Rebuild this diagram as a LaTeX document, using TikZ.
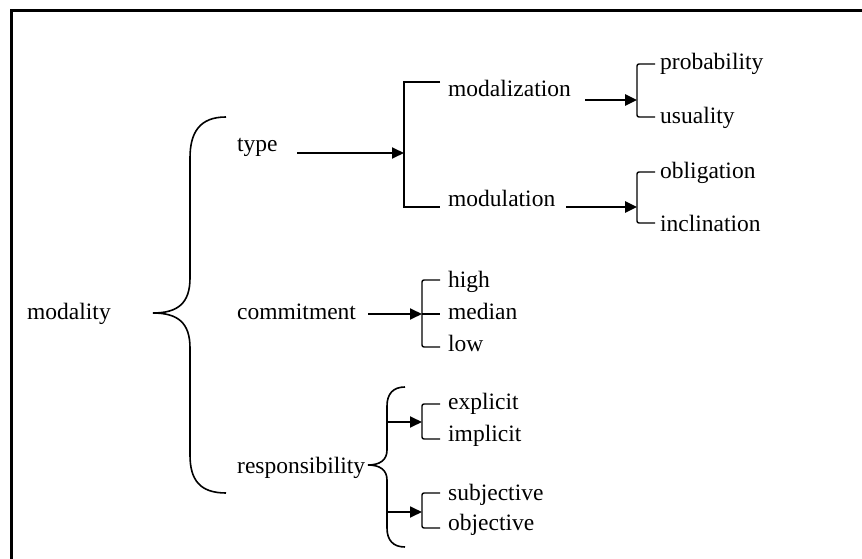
\documentclass[tikz,border=0pt]{standalone}
\usepackage{fontspec}
\setmainfont{Liberation Serif}
\usetikzlibrary{arrows.meta}

\begin{document}
\begin{tikzpicture}[x=1pt,y=-1pt,
		lbl/.style={anchor=mid west,inner sep=0pt,yshift=-4pt,font=\fontsize{23.5}{28}\selectfont},
		arr/.style={-{Triangle[length=12pt,width=11pt]},line width=1.8pt},
		barr/.style={arr,line width=2.6pt},
		brk/.style={line width=1.4pt,rounded corners=2pt},
		brace/.style={line width=1.6pt}]
	\useasboundingbox (0,0) rectangle (862,559);
	\draw[line width=3pt] (11,559) -- (11,11) -- (862,11);
	% texts
	\node[lbl] (modality) at (27,313) {modality};
	\node[lbl] (type) at (237,145) {type};
	\node[lbl] (commitment) at (237,313) {commitment};
	\node[lbl] (responsibility) at (237,467) {responsibility};
	\node[lbl] (modalization) at (448,90) {modalization};
	\node[lbl] (modulation) at (448,200) {modulation};
	\node[lbl] (probability) at (660,63) {probability};
	\node[lbl] (usuality) at (660,117) {usuality};
	\node[lbl] (obligation) at (660,172) {obligation};
	\node[lbl] (inclination) at (660,225) {inclination};
	\node[lbl] (high) at (448,281) {high};
	\node[lbl] (median) at (448,313) {median};
	\node[lbl] (low) at (448,345) {low};
	\node[lbl] (explicit) at (448,403) {explicit};
	\node[lbl] (implicit) at (448,435) {implicit};
	\node[lbl] (subjective) at (448,494) {subjective};
	\node[lbl] (objective) at (448,524) {objective};
	% arrow ends
	\coordinate (typeout) at (297,153);
	\coordinate (typein) at (404,153);
	\coordinate (mdzout) at (585,100);
	\coordinate (mdzin) at (637,100);
	\coordinate (mdlout) at (566,207);
	\coordinate (mdlin) at (637,207);
	\coordinate (comout) at (368,314);
	\coordinate (comin) at (422,314);
	\coordinate (expout) at (387,422);
	\coordinate (expin) at (422,422);
	\coordinate (subout) at (387,512);
	\coordinate (subin) at (422,512);
	\draw[arr] (typeout) -- (typein);
	\draw[barr] (mdzout) -- (mdzin);
	\draw[barr] (mdlout) -- (mdlin);
	\draw[arr] (comout) -- (comin);
	\draw[arr] (expout) -- (expin);
	\draw[arr] (subout) -- (subin);
	% brackets
	\draw[brk,rounded corners=0pt] (440,82) -- (404,82) -- (404,207) -- (440,207);
	\draw[brk] (655,64) -- (637,64) -- (637,117) -- (655,117);
	\draw[brk] (655,172) -- (637,172) -- (637,223) -- (655,223);
	\draw[brk] (440,280) -- (422,280) -- (422,347) -- (440,347);
	\draw[brk] (422,314) -- (440,314);
	\draw[brk] (440,404) -- (422,404) -- (422,439) -- (440,439);
	\draw[brk] (440,493) -- (422,493) -- (422,528) -- (440,528);
	% braces
	\draw[brace] (226,117) .. controls (200,117) and (190,132) .. (190,158) -- (190,278)
		.. controls (190,303) and (178,313) .. (153,313)
		.. controls (178,313) and (190,323) .. (190,348) -- (190,455)
		.. controls (190,480) and (200,493) .. (226,493);
	\draw[brace] (405,387) .. controls (393,387) and (387,394) .. (387,406) -- (387,450)
		.. controls (387,460) and (380,465) .. (368,465)
		.. controls (380,465) and (387,470) .. (387,480) -- (387,528)
		.. controls (387,540) and (393,547) .. (405,547);
\end{tikzpicture}
\end{document}
